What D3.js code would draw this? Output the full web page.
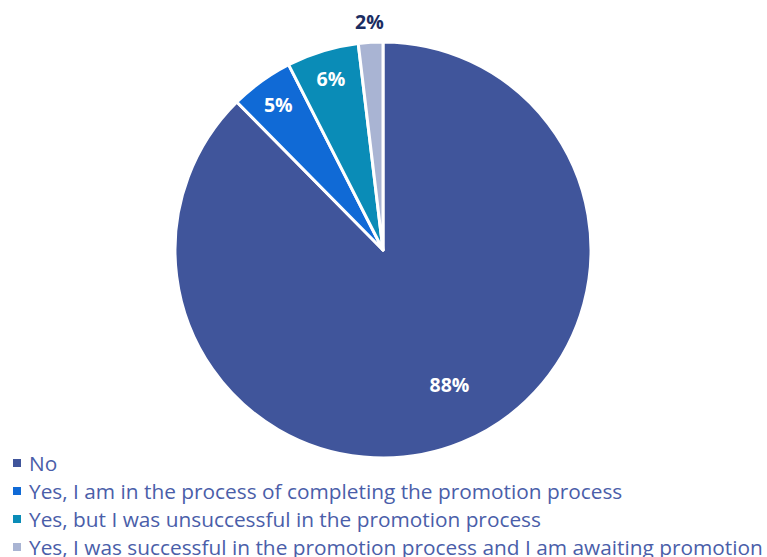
<!DOCTYPE html>
<html><head><meta charset="utf-8">
<script src="https://cdn.jsdelivr.net/npm/d3@7"></script>
<style>html,body{margin:0;padding:0;background:#fff;}svg{display:block;}</style>
</head><body>
<svg id="chart" width="767" height="557"></svg>
<script>
const categories = ["No","Yes, I am in the process of completing the promotion process","Yes, but I was unsuccessful in the promotion process","Yes, I was successful in the promotion process and I am awaiting promotion"];
const values = [87.6, 4.9, 5.6, 1.9];
const labels = ["88%","5%","6%","2%"];
const colors = ["#40559b","#106ad6","#0a8cb7","#a9b4d3"];

const svg = d3.select("#chart");
const cx = 383, cy = 250, R = 208;
const g = svg.append("g").attr("transform", `translate(${cx},${cy})`);
const data = categories.map((c,i)=>({c, v: values[i], l: labels[i], col: colors[i]}));
const pie = d3.pie().sort(null).value(d=>d.v);
const arcs = pie(data);
const arc = d3.arc().innerRadius(0).outerRadius(R);
g.selectAll("path").data(arcs).join("path")
  .attr("d", arc).attr("fill", d=>d.data.col)
  .attr("stroke", "#fff").attr("stroke-width", 3).attr("stroke-linejoin","round");

const labelR = i => i===0 ? R*0.72 : (i===3 ? R*1.1 : R*0.86);
const labelA = i => i===0 ? -0.07 : 0;
g.selectAll("text.lbl").data(arcs).join("text").attr("class","lbl")
  .each(function(d,i){
    const a = (d.startAngle + d.endAngle)/2 + labelA(i), r = labelR(i);
    d3.select(this).attr("x", Math.sin(a)*r).attr("y", -Math.cos(a)*r);
  })
  .attr("text-anchor","middle").attr("dominant-baseline","central")
  .attr("font-family","'Open Sans', sans-serif").attr("font-weight","bold").attr("font-size",19.5)
  .attr("fill",(d,i)=> i===3 ? "#1b2d62" : "#fff")
  .text(d=>d.data.l);

const leg = svg.append("g");
const rowY = d3.scaleBand().domain(categories).range([449, 561]);
const items = leg.selectAll("g").data(data).join("g")
  .attr("transform", d=>`translate(0,${rowY(d.c)+rowY.bandwidth()/2})`);
items.append("rect").attr("x",13).attr("y",-4).attr("width",8).attr("height",8).attr("fill",d=>d.col);
const txt = items.append("text").attr("x",29).attr("y",0).attr("dominant-baseline","central")
  .attr("font-family","'Open Sans', sans-serif").attr("font-size",18).attr("fill","#4a5ea9")
  .text(d=>d.c);
const last = txt.nodes()[3];
const w = last.getComputedTextLength();
const fs = 18 * 734 / w;
txt.attr("font-size", fs);
</script>
</body></html>
